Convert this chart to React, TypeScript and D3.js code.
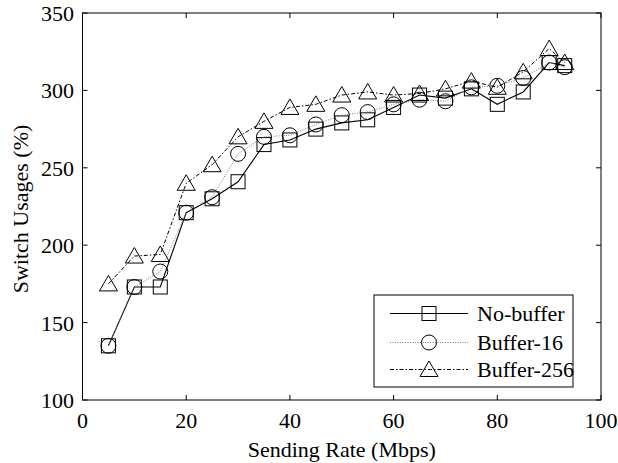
import React from "react";
import * as d3 from "d3";

const xs = [5, 10, 15, 20, 25, 30, 35, 40, 45, 50, 55, 60, 65, 70, 75, 80, 85, 90, 93];
const noBuffer = [135, 173, 173, 221, 230, 241, 265, 268, 275, 279, 281, 289, 297, 295, 301, 291, 299, 318, 316];
const buffer16 = [135, 173, 183, 221, 231, 259, 270, 271, 278, 284, 286, 291, 294, 293, 302, 303, 308, 318, 315];
const buffer256 = [175, 193, 194, 240, 252, 270, 280, 289, 291, 297, 299, 297, 298, 301, 306, 302, 312, 327, 318];
const xTicks = [0, 20, 40, 60, 80, 100];
const yTicks = [100, 150, 200, 250, 300, 350];
const seriesNames = ["No-buffer", "Buffer-16", "Buffer-256"];

const W = 618, H = 463;
const L = 82.5, R = 601, T = 13, B = 400;
const FONT = "'Liberation Serif', 'Times New Roman', serif";
const FS = 22;

type Shape = "square" | "circle" | "triangle";

function Marker({ x, y, shape }: { x: number; y: number; shape: Shape }) {
  const st = { fill: "none", stroke: "#000", strokeWidth: 1 };
  if (shape === "square") return <rect x={x - 7} y={y - 7} width={14} height={14} {...st} />;
  if (shape === "circle") return <circle cx={x} cy={y} r={7.5} {...st} />;
  return <path d={`M${x},${y - 8.5}L${x + 9},${y + 7}L${x - 9},${y + 7}Z`} {...st} />;
}

export default function App() {
  const xS = d3.scaleLinear().domain([0, 100]).range([L, R]);
  const yS = d3.scaleLinear().domain([100, 350]).range([B, T]);
  const series = [
    { name: seriesNames[0], vals: noBuffer, shape: "square" as Shape, dash: "", color: "#000", w: 1.1 },
    { name: seriesNames[1], vals: buffer16, shape: "circle" as Shape, dash: "1,1.5", color: "#777", w: 1 },
    { name: seriesNames[2], vals: buffer256, shape: "triangle" as Shape, dash: "4,2,1.5,2", color: "#000", w: 1 },
  ];
  const line = d3.line<[number, number]>().x(d => xS(d[0])).y(d => yS(d[1]));
  const legY = [313.5, 342.5, 369.5];
  return (
    <svg width={W} height={H} style={{ position: "absolute", left: 0, top: 0, background: "#fff" }}>
      <rect x={0} y={0} width={W} height={H} fill="#fff" />
      {series.map((s, i) => (
        <g key={i}>
          <path d={line(xs.map((x, j) => [x, s.vals[j]] as [number, number])) || ""} fill="none"
            stroke={s.color} strokeWidth={s.w} strokeDasharray={s.dash} />
          {xs.map((x, j) => <Marker key={j} x={xS(x)} y={yS(s.vals[j])} shape={s.shape} />)}
        </g>
      ))}
      <rect x={L} y={T} width={R - L} height={B - T} fill="none" stroke="#000" strokeWidth={1} />
      {xTicks.map(t => (
        <g key={"x" + t}>
          <line x1={xS(t)} x2={xS(t)} y1={B} y2={B - 5} stroke="#000" />
          <line x1={xS(t)} x2={xS(t)} y1={T} y2={T + 5} stroke="#000" />
          <text x={xS(t)} y={428} textAnchor="middle" fontFamily={FONT} fontSize={FS}>{t}</text>
        </g>
      ))}
      {yTicks.map(t => (
        <g key={"y" + t}>
          <line x1={L} x2={L + 5} y1={yS(t)} y2={yS(t)} stroke="#000" />
          <line x1={R} x2={R - 5} y1={yS(t)} y2={yS(t)} stroke="#000" />
          <text x={74} y={yS(t) + 8} textAnchor="end" fontFamily={FONT} fontSize={FS}>{t}</text>
        </g>
      ))}
      <text x={(L + R) / 2} y={457} textAnchor="middle" fontFamily={FONT} fontSize={FS}>Sending Rate (Mbps)</text>
      <text transform={`translate(28,${209}) rotate(-90)`} textAnchor="middle" fontFamily={FONT} fontSize={FS}>Switch Usages (%)</text>
      <rect x={374} y={295} width={199} height={92} fill="#fff" stroke="#000" strokeWidth={1} />
      {series.map((s, i) => (
        <g key={"l" + i}>
          <line x1={390} x2={468} y1={legY[i]} y2={legY[i]} stroke={s.color} strokeWidth={s.w} strokeDasharray={s.dash} />
          <Marker x={429} y={legY[i]} shape={s.shape} />
          <text x={477} y={legY[i] + 7.5} fontFamily={FONT} fontSize={FS}>{s.name}</text>
        </g>
      ))}
    </svg>
  );
}
